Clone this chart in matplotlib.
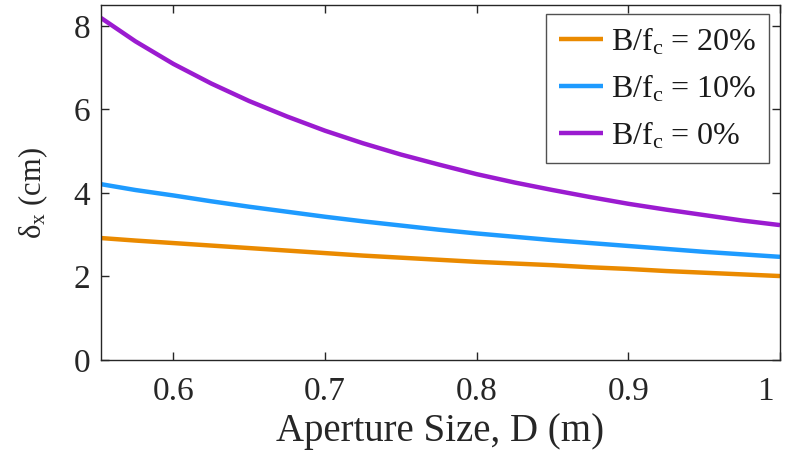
import matplotlib
matplotlib.use("Agg")
import matplotlib.pyplot as plt
from matplotlib.transforms import ScaledTranslation

plt.rcParams['font.family'] = ['Liberation Serif', 'DejaVu Serif']
plt.rcParams['mathtext.fontset'] = 'custom'
plt.rcParams['mathtext.rm'] = 'Liberation Serif'
plt.rcParams['mathtext.it'] = 'Liberation Serif:italic'

D = [0.5523, 0.575, 0.600, 0.625, 0.650, 0.675, 0.700, 0.725, 0.750, 0.775,
     0.800, 0.825, 0.850, 0.875, 0.900, 0.925, 0.950, 0.975, 1.000]
bw20 = [2.92, 2.86, 2.80, 2.74, 2.68, 2.62, 2.56, 2.50, 2.45, 2.40,
        2.35, 2.31, 2.27, 2.22, 2.18, 2.13, 2.09, 2.05, 2.01]
bw10 = [4.21, 4.07, 3.94, 3.80, 3.67, 3.55, 3.43, 3.32, 3.22, 3.12,
        3.03, 2.95, 2.87, 2.80, 2.73, 2.66, 2.59, 2.53, 2.47]
bw0 = [8.19, 7.63, 7.09, 6.62, 6.20, 5.83, 5.49, 5.19, 4.92, 4.68,
       4.45, 4.25, 4.07, 3.90, 3.74, 3.60, 3.47, 3.34, 3.23]
labels = ['B/f$_\\mathrm{c}$ = 20%', 'B/f$_\\mathrm{c}$ = 10%', 'B/f$_\\mathrm{c}$ = 0%']
colors = ['#EA8A00', '#1E9BFF', '#9B1BD0']
xticks = [0.6, 0.7, 0.8, 0.9, 1.0]
xticklabels = ['0.6', '0.7', '0.8', '0.9', '1']
yticks = [0, 2, 4, 6, 8]

fig = plt.figure(figsize=(7.9, 4.55), dpi=100)
ax = fig.add_axes([101/790, 1 - 360/455, (780-101)/790, (360-5)/455])

for y, lab, c in zip([bw20, bw10, bw0], labels, colors):
    ax.plot(D, y, color=c, lw=3.2, label=lab, solid_capstyle='butt')

ax.set_xlim(0.5523, 1.0)
ax.set_ylim(0, 8.5)
ax.set_xticks(xticks)
ax.set_xticklabels(xticklabels)
ax.set_yticks(yticks)
ax.tick_params(direction='in', length=6, width=1, colors='#262626',
               labelsize=24, top=True, right=True)
ax.tick_params(axis='x', pad=12)
ax.tick_params(axis='y', pad=8)
lab1 = ax.xaxis.get_major_ticks()[-1].label1
lab1.set_transform(lab1.get_transform() + ScaledTranslation(-0.15, 0, fig.dpi_scale_trans))
for s in ax.spines.values():
    s.set_color('#262626')
    s.set_linewidth(1.0)
ax.set_xlabel('Aperture Size, D (m)', fontsize=28, color='#262626', labelpad=4)
ax.set_ylabel(r'$\mathrm{δ_x}$ (cm)', fontsize=22, color='#262626')
ax.yaxis.set_label_coords(-0.075, 0.47)

leg = ax.legend(loc='upper right', fontsize=23, frameon=True, fancybox=False,
                edgecolor='#262626', handlelength=1.4, handletextpad=0.25,
                borderpad=0.38, labelspacing=0.48, borderaxespad=0,
                bbox_to_anchor=((769-101)/679, (360-14)/355))
leg.get_frame().set_linewidth(1.0)
for t in leg.get_texts():
    t.set_color('#1a1a1a')

fig.savefig('out.png', dpi=100)
